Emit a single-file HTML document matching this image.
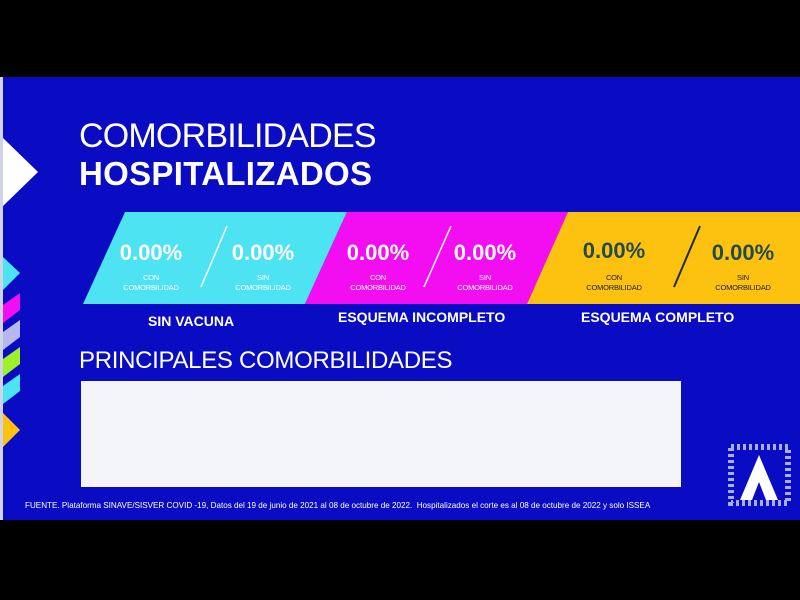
<!DOCTYPE html>
<html><head><meta charset="utf-8"><style>
body{margin:0;width:800px;height:600px;background:#000;position:relative;overflow:hidden;font-family:"Liberation Sans",sans-serif}
.bg{position:absolute;left:0;top:77px;width:800px;height:443px;background:#0a0cc4}
.t{position:absolute;white-space:nowrap;color:#fff}
.pct{font-weight:bold;font-size:22px;text-align:center;width:90px}
.sub{font-size:7.5px;text-align:center;width:90px;line-height:10px;letter-spacing:-0.2px}
.lbl{font-weight:bold;font-size:14px}
</style></head><body>
<div class="bg"></div>
<svg style="position:absolute;left:0;top:0" width="800" height="600">
<rect x="0" y="77" width="3" height="443" fill="#cfd3e6"/>
<polygon points="3,138 38,172 3,206" fill="#fff"/>
<polygon points="125,212 347,212 305,304 83,304" fill="#4ee3f3"/>
<polygon points="347,212 568,212 527,304 305,304" fill="#f20ef0"/>
<polygon points="568,212 800,212 800,304 527,304" fill="#fdc20f"/>
<line x1="227" y1="226" x2="201" y2="287" stroke="#fff" stroke-width="1.5"/>
<line x1="451" y1="226" x2="424" y2="287" stroke="#fff" stroke-width="1.5"/>
<line x1="700" y1="226" x2="674" y2="287" stroke="#1c2a3a" stroke-width="2"/>
<polygon points="3,257 20,273 3,290" fill="#4ee3f3"/>
<polygon points="3,305 20,293 20,310 3,323" fill="#f20ef0"/>
<polygon points="3,332 20,320 20,337 3,350" fill="#b7b8f0"/>
<polygon points="3,359 20,347 20,364 3,377" fill="#9ef027"/>
<polygon points="3,386 20,374 20,391 3,404" fill="#4ee3f3"/>
<polygon points="3,413 20,430 3,447" fill="#fdc20f"/>
<rect x="81" y="381" width="600" height="106" fill="#f4f5f8"/>
<rect x="731" y="447" width="57" height="56" fill="none" stroke="#a8acf4" stroke-width="6" stroke-dasharray="3 3"/>
<polygon points="759,455 778,500 766,500 759,482 752,500 740,500" fill="#fff"/>
</svg>
<div class="t" style="left:79px;top:117px;font-size:34px;font-weight:300;letter-spacing:-0.8px">COMORBILIDADES</div>
<div class="t" style="left:79px;top:155px;font-size:33px;font-weight:bold;letter-spacing:0.3px">HOSPITALIZADOS</div>
<div class="t pct" style="left:106px;top:240px">0.00%</div>
<div class="t sub" style="left:106px;top:273px">CON<br>COMORBILIDAD</div>
<div class="t pct" style="left:218px;top:240px">0.00%</div>
<div class="t sub" style="left:218px;top:273px">SIN<br>COMORBILIDAD</div>
<div class="t pct" style="left:333px;top:240px">0.00%</div>
<div class="t sub" style="left:333px;top:273px">CON<br>COMORBILIDAD</div>
<div class="t pct" style="left:440px;top:240px">0.00%</div>
<div class="t sub" style="left:440px;top:273px">SIN<br>COMORBILIDAD</div>
<div class="t pct" style="left:569px;top:238px;color:#244a48">0.00%</div>
<div class="t sub" style="left:569px;top:273px;color:#223">CON<br>COMORBILIDAD</div>
<div class="t pct" style="left:698px;top:240px;color:#244a48">0.00%</div>
<div class="t sub" style="left:698px;top:273px;color:#223">SIN<br>COMORBILIDAD</div>
<div class="t lbl" style="left:148px;top:313px">SIN VACUNA</div>
<div class="t lbl" style="left:338px;top:309px">ESQUEMA INCOMPLETO</div>
<div class="t lbl" style="left:581px;top:309px">ESQUEMA COMPLETO</div>
<div class="t" style="left:79px;top:347px;font-size:24px;font-weight:300;letter-spacing:-0.3px">PRINCIPALES COMORBILIDADES</div>
<div class="t" style="left:25px;top:501px;font-size:8.1px">FUENTE. Plataforma SINAVE/SISVER COVID -19, Datos del 19 de junio de 2021 al 08 de octubre de 2022.&nbsp; Hospitalizados el corte es al 08 de octubre de 2022 y solo ISSEA</div>
</body></html>
